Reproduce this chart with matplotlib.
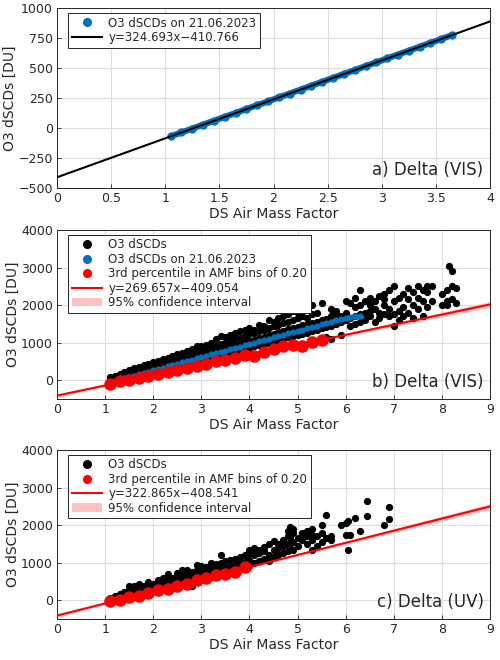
import matplotlib
matplotlib.use("Agg")
import matplotlib.pyplot as plt
import numpy as np

# ---- data ----
a_blue_x = [1.05,1.15,1.25,1.35,1.45,1.55,1.65,1.75,1.85,1.95,2.05,2.15,2.25,2.35,2.45,2.55,2.65,2.75,2.85,2.95,3.05,3.15,3.25,3.35,3.45,3.55,3.65]
a_blue_y = [-70,-37,-5,28,60,93,125,158,190,222,255,287,320,352,385,417,450,482,515,547,580,612,644,677,709,742,774]
a_fit = (324.693, -410.766)

b_blue_x = [round(1.1 + 0.1*i, 1) for i in range(53)]
b_blue_y = [-50,-15,20,55,90,125,160,195,230,265,300,335,370,405,440,475,510,545,580,615,
            650,685,720,755,790,825,860,895,930,965,1000,1035,1070,1105,1140,1175,1210,1245,1280,1315,
            1350,1385,1420,1455,1490,1525,1560,1595,1630,1665,1690,1710,1720]

b_red_x = [1.1,1.3,1.5,1.7,1.9,2.1,2.3,2.5,2.7,2.9,3.1,3.3,3.5,3.7,3.9,4.1,4.3,4.5,4.7,4.9,5.1,5.3,5.5]
b_red_y = [-100,-30,0,60,100,160,210,270,320,370,430,500,540,580,670,650,760,840,910,930,900,1030,1070]
b_fit = (269.657, -409.054)

c_red_x = [1.1,1.3,1.5,1.7,1.9,2.1,2.3,2.5,2.7,2.9,3.1,3.3,3.5,3.7,3.9]
c_red_y = [-20,10,90,110,180,260,300,380,440,540,580,680,700,760,880]
c_fit = (322.865, -408.541)

b_cloud = [
(1.1,[-60,0,40,80]),(1.2,[-30,30,80,120]),(1.3,[0,60,120,170]),(1.4,[30,100,160,220]),
(1.5,[60,130,200,270]),(1.6,[90,170,240,320]),(1.7,[120,200,280,360]),(1.8,[150,240,320,400]),
(1.9,[180,270,360,440]),(2.0,[220,300,390,480]),(2.1,[250,340,430,520]),(2.2,[280,380,470,560]),
(2.3,[310,410,510,600]),(2.4,[340,450,550,640]),(2.5,[380,480,590,690]),(2.6,[410,520,630,730]),
(2.7,[440,560,670,780]),(2.8,[470,600,710,820]),(2.9,[500,630,760,900]),(3.0,[540,670,800,900]),
(3.1,[570,710,840,950]),(3.2,[600,740,880,1000]),(3.3,[640,780,920,1100]),(3.4,[670,820,960,1180]),
(3.5,[700,860,1000,1150]),(3.6,[740,900,1050,1200]),(3.7,[770,930,1090,1250]),(3.8,[800,970,1130,1300]),
(3.9,[840,1010,1170,1350]),(4.0,[870,1050,1220,1400]),(4.1,[900,1080,1260,1330]),(4.2,[940,1120,1300,1480]),
(4.3,[970,1160,1340,1450]),(4.4,[1000,1200,1400,1600]),(4.5,[1040,1240,1440,1560]),(4.6,[1070,1280,1480,1650]),
(4.7,[1100,1320,1520,1700]),(4.8,[1140,1360,1560,1750]),(4.9,[1170,1400,1600,1850]),(5.0,[1200,1430,1650,1800]),
(5.1,[1240,1470,1700,1900]),(5.2,[1270,1500,1650]),(5.3,[1300,1530,1750,2000]),(5.4,[1340,1560,1800]),
(5.5,[1380,1600,2050]),(5.6,[1150,1420,1640]),(5.7,[1100,1450,1700,1900]),(5.8,[1500,1750,1850]),
(5.9,[1200,1550,1700]),(6.0,[1600,1800,2100]),(6.1,[1450,1650,2050]),(6.2,[1500,1700,1950,2200]),
(6.3,[1550,1750,2000,2400]),(6.4,[1600,1800,2100]),(6.5,[1700,1850,2000,2200]),(6.6,[1550,1900,2100]),
(6.7,[1650,1800,2250]),(6.8,[1750,2000,2150,2300]),(6.9,[1700,1900,2400]),(7.0,[1450,1750,2100,2500]),
(7.1,[1600,1850,2200]),(7.2,[1700,1950,2300]),(7.3,[1800,2150,2450]),(7.4,[1650,2000,2350]),
(7.5,[1900,2200,2500]),(7.6,[1700,2100,2400]),(7.7,[1950,2350,2500]),(7.8,[2100,2500]),
(8.0,[2000,2300]),(8.1,[2000,2100,2400]),(8.15,[3050]),(8.2,[2150,2500,2900]),(8.3,[2050,2450]),
]

c_cloud = [
(1.1,[-20,30,70]),(1.2,[0,60,110]),(1.3,[30,100,160]),(1.4,[60,140,220]),(1.5,[90,180,280,380]),
(1.6,[120,210,300,380]),(1.7,[150,250,340,420]),(1.8,[180,280,370]),(1.9,[210,310,410,480]),
(2.0,[240,340,440]),(2.1,[270,380,480,550]),(2.2,[300,410,510,600]),(2.3,[340,450,560,700]),
(2.4,[370,480,590]),(2.5,[400,520,640,720]),(2.6,[430,550,680,800]),(2.7,[460,590,720,800]),
(2.8,[380,500,630,760]),(2.9,[530,660,800,950]),(3.0,[560,700,850,900]),(3.1,[600,740,880]),
(3.2,[630,780,920,1000]),(3.3,[660,810,960]),(3.4,[700,850,1000,1200]),(3.5,[730,880,1050]),
(3.6,[760,920,1080]),(3.7,[800,950,1100]),(3.8,[830,990,1150]),(3.9,[870,1020,1200]),
(4.0,[900,1060,1250,1350]),(4.1,[1000,1200,1400]),(4.2,[1050,1250,1350]),(4.3,[1100,1300,1420]),
(4.4,[1050,1200,1500]),(4.5,[1150,1350,1580]),(4.6,[1200,1400,1500]),(4.7,[1250,1450,1600]),
(4.8,[1300,1500,1700,1850]),(4.85,[1400,1650,1950]),(4.9,[1350,1550,1800,1900]),(5.0,[1450,1650]),
(5.1,[1600,1800]),(5.2,[1500,1700,1850]),(5.3,[1350,1600,1750,1900]),(5.4,[1450,1700]),
(5.5,[1550,1800,2000]),(5.6,[1650,2280]),(5.7,[1600,1700]),(5.9,[2000]),(6.0,[1750,2050]),
(6.05,[1350,2100]),(6.1,[1750]),(6.2,[2200]),(6.3,[1850]),(6.45,[2250,2630]),(6.8,[2000]),(6.9,[2170,2480]),
]

def flat(cloud):
    xs, ys = [], []
    for x, yl in cloud:
        for y in yl:
            xs.append(x); ys.append(y)
    return xs, ys

BLUE = "#0072BD"
TXT = "#262626"
plt.rcParams.update({"font.family": "DejaVu Sans", "font.size": 9,
                     "text.color": TXT, "axes.labelcolor": TXT,
                     "xtick.color": TXT, "ytick.color": TXT})

fig = plt.figure(figsize=(5, 6.6), dpi=100)
W, H = 500, 660
def mkax(top, bottom):
    return fig.add_axes([57/W, 1-bottom/H, (490-57)/W, (bottom-top)/H])

def style(ax, xlim, ylim, xt, yt, label):
    ax.set_xlim(*xlim); ax.set_ylim(*ylim)
    ax.set_xticks(xt); ax.set_yticks(yt)
    ax.grid(True, color="#dcdcdc", lw=0.8)
    ax.set_axisbelow(True)
    for s in ax.spines.values():
        s.set_color("#262626"); s.set_linewidth(0.7)
    ax.tick_params(direction="in", length=3, width=0.6, labelsize=9, pad=3)
    ax.set_xlabel("DS Air Mass Factor", fontsize=10, labelpad=1)
    ax.set_ylabel("O3 dSCDs [DU]", fontsize=10, labelpad=1)
    ax.text(0.985, 0.05, label, transform=ax.transAxes, ha="right", va="bottom", fontsize=12)

def leg(ax, fs):
    l = ax.legend(loc="upper left", bbox_to_anchor=(0.02, 0.985), fontsize=fs, frameon=True,
                  fancybox=False, edgecolor="#262626", handlelength=2.6, borderpad=0.3,
                  labelspacing=0.12, handletextpad=0.5, borderaxespad=0.2, framealpha=1)
    l.get_frame().set_linewidth(0.7)
    for h in l.legend_handles:
        if hasattr(h, "get_marker") and h.get_marker() == "o":
            h.set_markersize(5.5)

# Panel a
ax = mkax(8, 188)
ax.plot(a_blue_x, a_blue_y, color=BLUE, lw=4.5, solid_capstyle="round", zorder=2)
ax.plot(a_blue_x, a_blue_y, "o", color=BLUE, ms=5, zorder=2, label="O3 dSCDs on 21.06.2023")
xl = np.array([0, 4])
ax.plot(xl, a_fit[0]*xl + a_fit[1], color="black", lw=1.5, zorder=3,
        label=f"y={a_fit[0]:.3f}x\u2212{-a_fit[1]:.3f}")
style(ax, (0, 4), (-500, 1000), np.arange(0, 4.5, 0.5), np.arange(-500, 1001, 250), "a) Delta (VIS)")
ax.set_xticklabels(["0", "0.5", "1", "1.5", "2", "2.5", "3", "3.5", "4"])
leg(ax, 8.5)

def panel(top, bottom, cloud, red_x, red_y, fit, label, blue=None):
    ax = mkax(top, bottom)
    cx, cy = flat(cloud)
    ax.plot(cx, cy, "o", color="black", ms=4.2, ls="none", label="O3 dSCDs", zorder=2)
    if blue is not None:
        ax.plot(blue[0], blue[1], "o", color=BLUE, ms=3.5, ls="none", label="O3 dSCDs on 21.06.2023", zorder=3)
    ax.plot(red_x, red_y, "o", color="red", ms=8, ls="none", label="3rd percentile in AMF bins of 0.20", zorder=4)
    xl = np.linspace(0, 9, 50)
    yl = fit[0]*xl + fit[1]
    w = 15 + 6*np.abs(xl - 3.0)**1.3
    ax.plot(xl, yl, color="red", lw=1.5, zorder=5, label=f"y={fit[0]:.3f}x\u2212{-fit[1]:.3f}")
    ax.fill_between(xl, yl - w, yl + w, color="#ffb3b3", alpha=0.8, lw=0, zorder=1,
                    label="95% confidence interval")
    style(ax, (0, 9), (-500, 4000), np.arange(0, 10, 1), [0, 1000, 2000, 3000, 4000], label)
    leg(ax, 8.5)

panel(230, 399, b_cloud, b_red_x, b_red_y, b_fit, "b) Delta (VIS)", blue=(b_blue_x, b_blue_y))
panel(450, 619, c_cloud, c_red_x, c_red_y, c_fit, "c) Delta (UV)")

fig.savefig("out.png", dpi=100)
